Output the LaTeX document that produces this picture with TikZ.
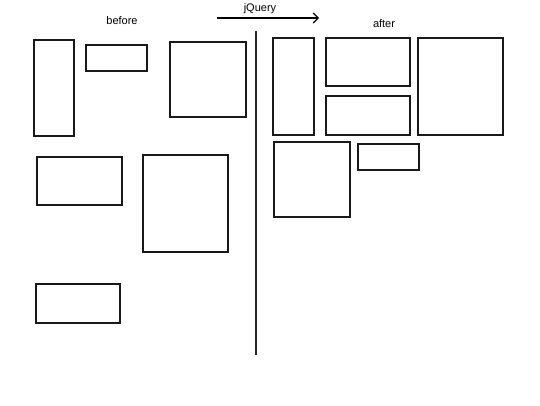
\documentclass[tikz,border=0pt]{standalone}
\usepackage{fontspec}
\setmainfont{Liberation Sans}
\usetikzlibrary{arrows.meta}
\begin{document}
\begin{tikzpicture}[x=1pt,y=-1pt,
  box/.style={draw=black!90, line width=1.2pt, inner sep=0pt, fill=white},
  lbl/.style={font=\fontsize{11}{13}\selectfont, inner sep=0pt}]
\useasboundingbox[fill=white] (0,0) rectangle (540,405);
% labels
\node[lbl] (before) at (122,21) {before};
\node[lbl] (after) at (384,24) {after};
\node[lbl] (jq) at (260,9) {jQuery};
\coordinate (as) at (217,18);
\coordinate (ae) at (319,18);
\draw[line width=1.1pt, -{Straight Barb[length=5pt,width=10pt,line width=1.1pt]}] (as) -- (ae);
% divider
\coordinate (vt) at (256,31);
\coordinate (vb) at (256,355);
\draw[line width=1.3pt, black!85] (vt) -- (vb);
% before boxes
\node[box, minimum width=40, minimum height=96] (b1) at (54,88) {};
\node[box, minimum width=61, minimum height=26] (b2) at (116.5,58) {};
\node[box, minimum width=76, minimum height=75] (b3) at (208,79.5) {};
\node[box, minimum width=85, minimum height=48] (b4) at (79.5,181) {};
\node[box, minimum width=85, minimum height=97] (b5) at (185.5,203.5) {};
\node[box, minimum width=84, minimum height=39] (b6) at (78,303.5) {};
% after boxes
\node[box, minimum width=41, minimum height=97] (a1) at (293.5,86.5) {};
\node[box, minimum width=84, minimum height=48] (a2) at (368,62) {};
\node[box, minimum width=84, minimum height=39] (a3) at (368,115.5) {};
\node[box, minimum width=85, minimum height=97] (a4) at (460.5,86.5) {};
\node[box, minimum width=76, minimum height=75] (a5) at (312,179.5) {};
\node[box, minimum width=61, minimum height=26] (a6) at (388.5,157) {};
\end{tikzpicture}
\end{document}
